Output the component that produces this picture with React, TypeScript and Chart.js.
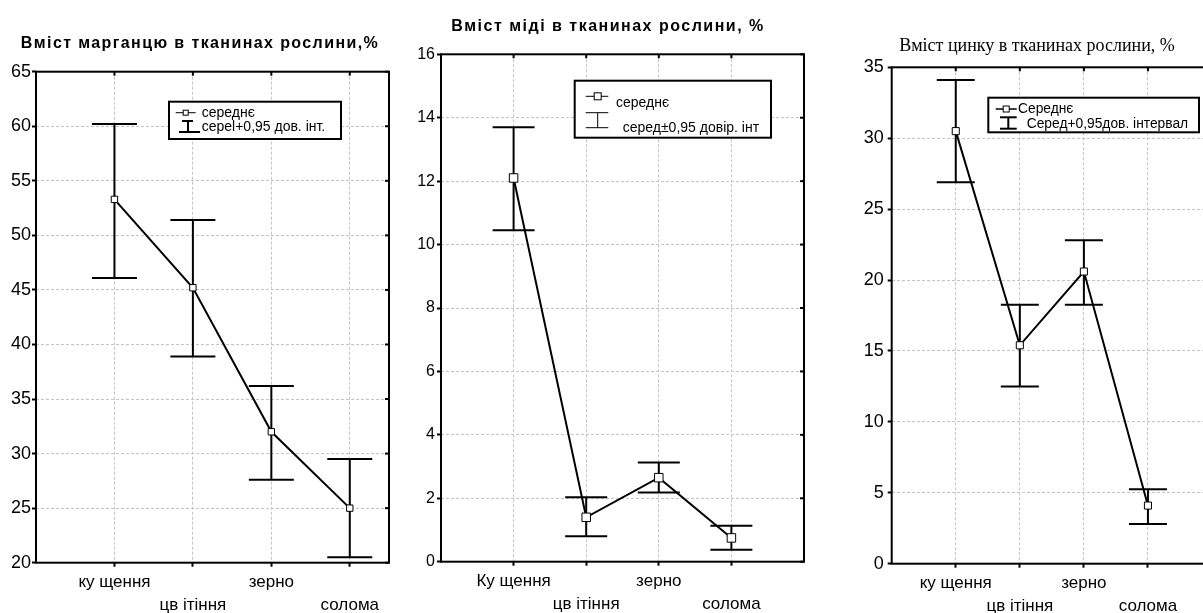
import React, { useEffect, useRef } from "react";
import { Chart, registerables } from "chart.js";

Chart.register(...registerables);

// ---------- data ----------
const categoriesMn = ["ку щення", "цв ітіння", "зерно", "солома"];
const categoriesCu = ["Ку щення", "цв ітіння", "зерно", "солома"];
const categoriesZn = ["ку щення", "цв ітіння", "зерно", "солома"];

const mnMean = [53.3, 45.2, 32.0, 25.0];
const mnUpper = [60.2, 51.4, 36.2, 29.5];
const mnLower = [46.1, 38.9, 27.6, 20.5];

const cuMean = [12.1, 1.4, 2.65, 0.75];
const cuUpper = [13.7, 2.03, 3.13, 1.13];
const cuLower = [10.45, 0.8, 2.18, 0.38];

const znMean = [30.5, 15.4, 20.6, 4.1];
const znUpper = [34.1, 18.25, 22.8, 5.25];
const znLower = [26.9, 12.5, 18.25, 2.8];

const mnYTicks = [20, 25, 30, 35, 40, 45, 50, 55, 60, 65];
const cuYTicks = [0, 2, 4, 6, 8, 10, 12, 14, 16];
const znYTicks = [0, 5, 10, 15, 20, 25, 30, 35];

const mnTitle = "Вміст марганцю в тканинах рослини,%";
const cuTitle = "Вміст міді в тканинах рослини, %";
const znTitle = "Вміст цинку в тканинах рослини, %";

const mnLegend = ["середнє", "серel+0,95 дов. інт."];
const cuLegend = ["середнє", "серед±0,95 довір. інт"];
const znLegend = ["Середнє", "Серед+0,95дов. інтервал"];

const SANS = "Arial, 'Liberation Sans', sans-serif";
const SERIF = "'Times New Roman', 'Liberation Serif', serif";

type Panel = {
  left: number;
  width: number;
  categories: string[];
  mean: number[];
  upper: number[];
  lower: number[];
  yTicks: number[];
  xMax: number;
  areaTop: number;
  areaBottom: number;
  yAxisWidth: number;
  padRight: number;
  yLabelPad: number;
  yFontSize: number;
  pointRadius: number;
  capHalf: number;
  title: string;
  titleFont: string;
  titleSpacing: string;
  titleBaseline: number;
  legendText: string[];
  drawLegend: (ctx: CanvasRenderingContext2D, text: string[]) => void;
};

function box(ctx: CanvasRenderingContext2D, x1: number, y1: number, x2: number, y2: number) {
  ctx.fillStyle = "#fff";
  ctx.fillRect(x1, y1, x2 - x1, y2 - y1);
  ctx.strokeStyle = "#000";
  ctx.lineWidth = 2;
  ctx.strokeRect(x1, y1, x2 - x1, y2 - y1);
}
function seg(ctx: CanvasRenderingContext2D, x1: number, y1: number, x2: number, y2: number, w: number) {
  ctx.lineWidth = w;
  ctx.strokeStyle = "#000";
  ctx.beginPath();
  ctx.moveTo(x1, y1);
  ctx.lineTo(x2, y2);
  ctx.stroke();
}
function sq(ctx: CanvasRenderingContext2D, cx: number, cy: number, s: number) {
  ctx.fillStyle = "#fff";
  ctx.fillRect(cx - s / 2, cy - s / 2, s, s);
  ctx.strokeStyle = "#000";
  ctx.lineWidth = 1;
  ctx.strokeRect(cx - s / 2, cy - s / 2, s, s);
}
function txt(ctx: CanvasRenderingContext2D, s: string, x: number, y: number, font: string) {
  ctx.fillStyle = "#000";
  ctx.font = font;
  ctx.textAlign = "left";
  ctx.textBaseline = "middle";
  ctx.fillText(s, x, y);
}

const panels: Panel[] = [
  {
    left: 0,
    width: 400,
    categories: categoriesMn,
    mean: mnMean,
    upper: mnUpper,
    lower: mnLower,
    yTicks: mnYTicks,
    xMax: 3.5,
    areaTop: 71.7,
    areaBottom: 562.7,
    yAxisWidth: 36,
    padRight: 11,
    yLabelPad: 1,
    yFontSize: 18,
    pointRadius: 4.5,
    capHalf: 22.5,
    title: mnTitle,
    titleFont: `bold 16px ${SANS}`,
    titleSpacing: "1.4px",
    titleBaseline: 48.3,
    legendText: mnLegend,
    drawLegend: (ctx, t) => {
      box(ctx, 169, 101.7, 341, 139);
      seg(ctx, 175.7, 112.7, 195.7, 112.7, 1);
      sq(ctx, 185.7, 112.7, 5);
      txt(ctx, t[0], 201.7, 112.7, `14px ${SANS}`);
      seg(ctx, 182, 121, 193, 121, 2);
      seg(ctx, 188, 121, 188, 132, 2);
      seg(ctx, 179, 132, 200, 132, 2);
      txt(ctx, t[1], 201.7, 127.3, `14px ${SANS}`);
    },
  },
  {
    left: 404,
    width: 408,
    categories: categoriesCu,
    mean: cuMean,
    upper: cuUpper,
    lower: cuLower,
    yTicks: cuYTicks,
    xMax: 4,
    areaTop: 54.3,
    areaBottom: 561.7,
    yAxisWidth: 37,
    padRight: 8,
    yLabelPad: 2,
    yFontSize: 16,
    pointRadius: 6,
    capHalf: 21,
    title: cuTitle,
    titleFont: `bold 16px ${SANS}`,
    titleSpacing: "1.5px",
    titleBaseline: 30.7,
    legendText: cuLegend,
    drawLegend: (ctx, t) => {
      box(ctx, 170.7, 80.7, 367, 137.7);
      seg(ctx, 181.7, 96.3, 204.3, 96.3, 1);
      sq(ctx, 193.7, 96.3, 7);
      txt(ctx, t[0], 212, 102.7, `14px ${SANS}`);
      seg(ctx, 181.7, 112.7, 204.3, 112.7, 1);
      seg(ctx, 193.7, 112.7, 193.7, 127.7, 1);
      seg(ctx, 181.7, 127.7, 204.3, 127.7, 1);
      txt(ctx, t[1], 218.7, 127.7, `14px ${SANS}`);
    },
  },
  {
    left: 856,
    width: 362,
    categories: categoriesZn,
    mean: znMean,
    upper: znUpper,
    lower: znLower,
    yTicks: znYTicks,
    xMax: 4,
    areaTop: 67.3,
    areaBottom: 563.7,
    yAxisWidth: 35.7,
    padRight: 5.3,
    yLabelPad: 4,
    yFontSize: 18,
    pointRadius: 5,
    capHalf: 19,
    title: znTitle,
    titleFont: `18px ${SERIF}`,
    titleSpacing: "0px",
    titleBaseline: 50.7,
    legendText: znLegend,
    drawLegend: (ctx, t) => {
      box(ctx, 132.3, 97.7, 343, 132.3);
      seg(ctx, 139.7, 109, 160.7, 109, 1.5);
      sq(ctx, 150.2, 109, 6);
      txt(ctx, t[0], 162, 109, `13.8px ${SANS}`);
      seg(ctx, 144, 117.3, 160.7, 117.3, 2);
      seg(ctx, 152.3, 117.3, 152.3, 128.7, 2);
      seg(ctx, 144, 128.7, 160.7, 128.7, 2);
      txt(ctx, t[1], 170.7, 124.3, `13.8px ${SANS}`);
    },
  },
];

const decorPlugin = {
  id: "decor",
  beforeDatasetsDraw(chart: any, _args: any, opts: any) {
    const p: Panel = opts.panel;
    const { ctx, scales } = chart;
    const x = scales.x;
    const y = scales.y;
    ctx.save();
    p.mean.forEach((_, i) => {
      const px = x.getPixelForValue(i);
      const yu = y.getPixelForValue(p.upper[i]);
      const yl = y.getPixelForValue(p.lower[i]);
      seg(ctx, px, yu, px, yl, 2);
      seg(ctx, px - p.capHalf, yu, px + p.capHalf, yu, 2);
      seg(ctx, px - p.capHalf, yl, px + p.capHalf, yl, 2);
    });
    ctx.restore();
  },
  afterDraw(chart: any, _args: any, opts: any) {
    const p: Panel = opts.panel;
    const { ctx, chartArea: a, scales } = chart;
    ctx.save();
    ctx.strokeStyle = "#000";
    ctx.lineWidth = 2;
    ctx.strokeRect(a.left, a.top, a.right - a.left, a.bottom - a.top);
    scales.x.ticks.forEach((t: any) => {
      const px = scales.x.getPixelForValue(t.value);
      seg(ctx, px, a.top, px, a.top + 4, 2);
    });
    scales.y.ticks.forEach((t: any) => {
      const py = scales.y.getPixelForValue(t.value);
      seg(ctx, a.right, py, a.right - 4, py, 2);
    });
    p.drawLegend(ctx, p.legendText);
    ctx.font = p.titleFont;
    (ctx as any).letterSpacing = p.titleSpacing;
    ctx.fillStyle = "#000";
    ctx.textAlign = "center";
    ctx.textBaseline = "alphabetic";
    ctx.fillText(p.title, chart.width / 2, p.titleBaseline);
    (ctx as any).letterSpacing = "0px";
    ctx.restore();
  },
};

function PanelChart({ p }: { p: Panel }) {
  const ref = useRef<HTMLCanvasElement | null>(null);
  useEffect(() => {
    if (!ref.current) return;
    const chart = new Chart(ref.current, {
      type: "scatter",
      data: {
        datasets: [
          {
            data: p.mean.map((v, i) => ({ x: i, y: v })),
            showLine: true,
            borderColor: "#000",
            borderWidth: 2,
            pointStyle: "rect",
            pointRadius: p.pointRadius,
            pointHoverRadius: p.pointRadius,
            pointBackgroundColor: "#fff",
            pointBorderColor: "#000",
            pointBorderWidth: 1,
          },
        ],
      },
      options: {
        animation: false,
        responsive: false,
        devicePixelRatio: 1,
        layout: { padding: { top: p.areaTop, right: p.padRight, left: 0, bottom: 0 } },
        plugins: {
          legend: { display: false },
          tooltip: { enabled: false },
          title: { display: false },
          decor: { panel: p },
        } as any,
        scales: {
          x: {
            type: "linear",
            min: -1,
            max: p.xMax,
            afterBuildTicks: (s: any) => {
              s.ticks = p.categories.map((_, i) => ({ value: i }));
            },
            afterFit: (s: any) => {
              s.height = 613 - p.areaBottom;
            },
            grid: {
              color: "#c4c4c4",
              lineWidth: 1,
              tickColor: "#000",
              tickWidth: 2,
              tickLength: 4,
            },
            border: { display: false, dash: [3, 2] },
            ticks: {
              color: "#000",
              padding: 4.5,
              maxRotation: 0,
              autoSkip: false,
              font: { family: SANS, size: 17, lineHeight: 1.35 },
              callback: (v: any) => {
                const i = Math.round(Number(v));
                const label = p.categories[i] ?? "";
                return i % 2 === 0 ? [label] : ["", label];
              },
            },
          },
          y: {
            type: "linear",
            min: p.yTicks[0],
            max: p.yTicks[p.yTicks.length - 1],
            afterBuildTicks: (s: any) => {
              s.ticks = p.yTicks.map((v) => ({ value: v }));
            },
            afterFit: (s: any) => {
              s.width = p.yAxisWidth;
            },
            grid: {
              color: "#c4c4c4",
              lineWidth: 1,
              tickColor: "#000",
              tickWidth: 2,
              tickLength: 4,
            },
            border: { display: false, dash: [3, 2] },
            ticks: {
              color: "#000",
              padding: p.yLabelPad,
              font: { family: SANS, size: p.yFontSize },
              callback: (v: any) => String(v),
            },
          },
        },
      } as any,
      plugins: [decorPlugin as any],
    });
    return () => chart.destroy();
  }, [p]);
  return (
    <canvas
      ref={ref}
      width={p.width}
      height={613}
      style={{ position: "absolute", left: p.left, top: 0, width: p.width, height: 613 }}
    />
  );
}

export default function App() {
  return (
    <div
      style={{
        position: "fixed",
        left: 0,
        top: 0,
        width: 1203,
        height: 613,
        overflow: "hidden",
        background: "#fff",
      }}
    >
      {panels.map((p, i) => (
        <PanelChart key={i} p={p} />
      ))}
    </div>
  );
}
